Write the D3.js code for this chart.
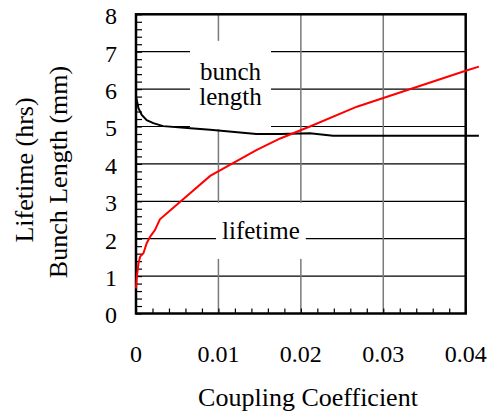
<!DOCTYPE html>
<html>
<head>
<meta charset="utf-8">
<script src="https://cdn.jsdelivr.net/npm/d3@7"></script>
<style>
  body { margin: 0; background: #fff; }
</style>
</head>
<body>
<div id="vis"></div>
<script>
const width = 490;
const height = 414;
const margin = { top: 14.3, right: 24.3, bottom: 100.5, left: 136 };

// coupling coefficient vs lifetime (hrs)
const lifetimeX = [0, 0.0001, 0.0003, 0.0005, 0.0009, 0.0013, 0.0017, 0.0023, 0.0029, 0.009, 0.0146, 0.0175, 0.0211, 0.0268, 0.04, 0.0416];
const lifetimeY = [0.67, 0.98, 1.34, 1.52, 1.61, 1.88, 2.05, 2.23, 2.52, 3.68, 4.37, 4.68, 5.0, 5.53, 6.49, 6.6];

// coupling coefficient vs bunch length (mm)
const bunchX = [0, 0.0003, 0.0007, 0.0013, 0.0021, 0.0033, 0.0066, 0.009, 0.0146, 0.0175, 0.0211, 0.0239, 0.0416];
const bunchY = [5.8, 5.49, 5.31, 5.17, 5.09, 5.01, 4.95, 4.91, 4.80, 4.80, 4.82, 4.75, 4.75];

const xTicks = [0, 0.01, 0.02, 0.03, 0.04];
const xTickLabels = ["0", "0.01", "0.02", "0.03", "0.04"];
const yTicks = [0, 1, 2, 3, 4, 5, 6, 7, 8];

const innerW = width - margin.left - margin.right;
const innerH = height - margin.top - margin.bottom;

const x = d3.scaleLinear().domain([0, 0.04]).range([0, innerW]);
const y = d3.scaleLinear().domain([0, 8]).range([innerH, 0]);

const svg = d3.select("#vis")
  .append("svg")
  .attr("width", width)
  .attr("height", height)
  .attr("font-family", "'Liberation Serif', 'DejaVu Serif', serif");

const g = svg.append("g")
  .attr("transform", "translate(" + margin.left + "," + margin.top + ")");

// grid
g.append("g")
  .selectAll("line")
  .data(yTicks.slice(1))
  .enter()
  .append("line")
  .attr("x1", 0).attr("x2", innerW)
  .attr("y1", d => y(d)).attr("y2", d => y(d))
  .attr("stroke", "#000")
  .attr("stroke-width", 1.2);

g.append("g")
  .selectAll("line")
  .data(xTicks.slice(1, -1))
  .enter()
  .append("line")
  .attr("x1", d => x(d)).attr("x2", d => x(d))
  .attr("y1", 0).attr("y2", innerH)
  .attr("stroke", "#7a7a7a")
  .attr("stroke-width", 1.5);

// minor ticks, pointing inward
const yAxis = d3.axisRight(y)
  .tickValues(d3.range(0, 8.01, 0.2))
  .tickSize(6)
  .tickFormat("");
g.append("g").call(yAxis)
  .call(a => a.select(".domain").remove())
  .selectAll("line").attr("stroke", "#000").attr("stroke-width", 1.2);

const xAxis = d3.axisTop(x)
  .tickValues(d3.range(0, 0.0401, 0.002))
  .tickSize(5)
  .tickFormat("");
g.append("g").attr("transform", "translate(0," + innerH + ")").call(xAxis)
  .call(a => a.select(".domain").remove())
  .selectAll("line").attr("stroke", "#000").attr("stroke-width", 1.2);

// white boxes behind the curve labels
const labels = [
  { lines: ["bunch", "length"], x0: 0.00655, x1: 0.01638, y0: 4.93, y1: 7.29 },
  { lines: ["lifetime"], x0: 0.00971, x1: 0.0206, y0: 1.46, y1: 2.96 }
];

g.selectAll(".lblbox")
  .data(labels)
  .enter()
  .append("rect")
  .attr("class", "lblbox")
  .attr("x", d => x(d.x0))
  .attr("y", d => y(d.y1))
  .attr("width", d => x(d.x1) - x(d.x0))
  .attr("height", d => y(d.y0) - y(d.y1))
  .attr("fill", "#fff");

// frame
g.append("rect")
  .attr("x", 0).attr("y", 0)
  .attr("width", innerW).attr("height", innerH)
  .attr("fill", "none")
  .attr("stroke", "#000")
  .attr("stroke-width", 2.5);

const line = d3.line().x(d => x(d[0])).y(d => y(d[1]));

g.append("path")
  .datum(d3.zip(bunchX, bunchY))
  .attr("d", line)
  .attr("fill", "none")
  .attr("stroke", "#000")
  .attr("stroke-width", 2);

g.append("path")
  .datum(d3.zip(lifetimeX, lifetimeY))
  .attr("d", line)
  .attr("fill", "none")
  .attr("stroke", "#ff0000")
  .attr("stroke-width", 2);

// label text
g.selectAll(".lbl")
  .data(labels)
  .enter()
  .append("text")
  .attr("class", "lbl")
  .attr("text-anchor", "middle")
  .attr("font-size", 25)
  .attr("y", d => (y(d.y0) + y(d.y1)) / 2 - (d.lines.length - 1) * 12.5 + 8)
  .selectAll("tspan")
  .data(d => d.lines.map(t => ({ t, cx: (x(d.x0) + x(d.x1)) / 2 })))
  .enter()
  .append("tspan")
  .attr("x", d => d.cx)
  .attr("dy", (d, i) => i ? 25 : 0)
  .text(d => d.t);

// tick labels
g.selectAll(".ylab")
  .data(yTicks)
  .enter()
  .append("text")
  .attr("text-anchor", "end")
  .attr("font-size", 24)
  .attr("x", -19)
  .attr("y", d => y(d) + 10)
  .text(d => d);

g.selectAll(".xlab")
  .data(xTicks)
  .enter()
  .append("text")
  .attr("text-anchor", "middle")
  .attr("font-size", 24)
  .attr("x", d => x(d))
  .attr("y", innerH + 48.5)
  .text((d, i) => xTickLabels[i]);

// axis titles
svg.append("text")
  .attr("text-anchor", "middle")
  .attr("font-size", 26)
  .attr("x", 308)
  .attr("y", 406)
  .text("Coupling Coefficient");

svg.append("text")
  .attr("text-anchor", "middle")
  .attr("font-size", 26)
  .attr("transform", "translate(33,170) rotate(-90)")
  .text("Lifetime (hrs)");

svg.append("text")
  .attr("text-anchor", "middle")
  .attr("font-size", 26)
  .attr("transform", "translate(67,172) rotate(-90)")
  .text("Bunch Length (mm)");
</script>
</body>
</html>
